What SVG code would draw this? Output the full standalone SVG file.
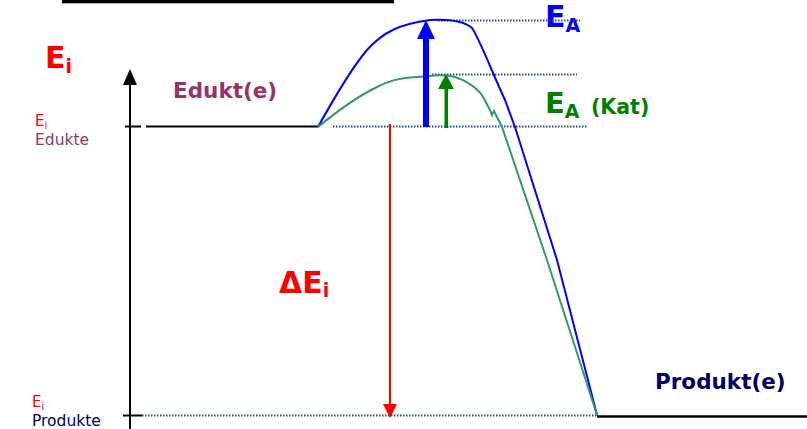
<svg xmlns="http://www.w3.org/2000/svg" width="807" height="429" viewBox="0 0 807 429">
<style>
.b{font-family:"DejaVu Sans","Liberation Sans",sans-serif;font-weight:bold}
.r{font-family:"DejaVu Sans","Liberation Sans",sans-serif}
.dot{stroke:#1f4e79;stroke-width:2;stroke-dasharray:1.5 1.5;fill:none}
.lvl{stroke:#000;stroke-width:2;fill:none}
</style>
<rect width="807" height="429" fill="#fff"/>
<rect x="62" y="0" width="332" height="3.3" fill="#000"/>
<g id="axis">
<line x1="130" y1="84" x2="130" y2="429" stroke="#000" stroke-width="2"/>
<polygon points="130,69 123,85 137,85" fill="#000"/>
<line x1="125" y1="126.5" x2="141" y2="126.5" stroke="#000" stroke-width="2"/>
<line x1="123" y1="415.5" x2="142" y2="415.5" stroke="#000" stroke-width="2"/>
<text class="b" x="45" y="68" font-size="30" fill="#ff0000">E<tspan font-size="19" dy="5">i</tspan></text>
</g>
<g id="edukt">
<line class="lvl" x1="146" y1="126.5" x2="318" y2="126.5"/>
<text class="b" x="173" y="98" font-size="21.5" fill="#993366">Edukt(e)</text>
<text class="r" x="35" y="126" font-size="15" fill="#ff0000">E<tspan font-size="10" dy="3">i</tspan></text>
<text class="r" x="35" y="145" font-size="15.5" fill="#993366">Edukte</text>
</g>
<g id="produkt">
<line x1="597" y1="416.5" x2="807" y2="416.5" stroke="#000" stroke-width="2.5"/>
<text class="b" x="655" y="389" font-size="21.5" fill="#000066">Produkt(e)</text>
<text class="r" x="32" y="407" font-size="15" fill="#ff0000">E<tspan font-size="10" dy="3">i</tspan></text>
<text class="r" x="32" y="426" font-size="15.5" fill="#000066">Produkte</text>
</g>
<g id="labels">
<text class="b" x="545" y="27" font-size="30" fill="#0000ff">E<tspan font-size="19" dy="5">A</tspan></text>
<text class="b" x="545" y="113" font-size="29" fill="#008000">E<tspan font-size="19" dy="5">A</tspan><tspan x="591" y="114" font-size="20.5">(Kat)</tspan></text>
<text class="b" x="279" y="293" font-size="30" fill="#ff0000">ΔE<tspan font-size="19" dy="4">i</tspan></text>
</g>
<g id="connectors">
<line class="dot" x1="333" y1="126.5" x2="588" y2="126.5"/>
<line class="dot" x1="438" y1="20.5" x2="580" y2="20.5"/>
<line class="dot" x1="432" y1="74.5" x2="577" y2="74.5"/>
<line class="dot" x1="142" y1="415.5" x2="597" y2="415.5"/>
<path d="M318,127 C333,100 350,70 367,50 C383,32 400,24 430,20 C450,19 465,22 472,28 C480,40 492,72 505,100 L515,127 L557,260 L597,415" fill="none" stroke="#0000ff" stroke-width="2"/>
<path d="M318,127 C335,113 355,98 375,88 C390,80 400,78 417,77 C430,76 440,74 450,76 C462,78 475,86 482,95 L490,110 L492,115 L494,111 L497,117 L502,127 L547,260 L597,415" fill="none" stroke="#339966" stroke-width="2"/>
<line x1="390" y1="124" x2="390" y2="405" stroke="#ff0000" stroke-width="2"/>
<polygon points="383,404 397,404 390,418" fill="#ff0000"/>
<rect x="423" y="38" width="6" height="89" fill="#0000ff"/>
<polygon points="417,39 435,39 426,20" fill="#0000ff"/>
<rect x="444.5" y="88" width="3.5" height="40" fill="#008000"/>
<polygon points="438,89 454,89 446,74" fill="#008000"/>
</g>
</svg>
